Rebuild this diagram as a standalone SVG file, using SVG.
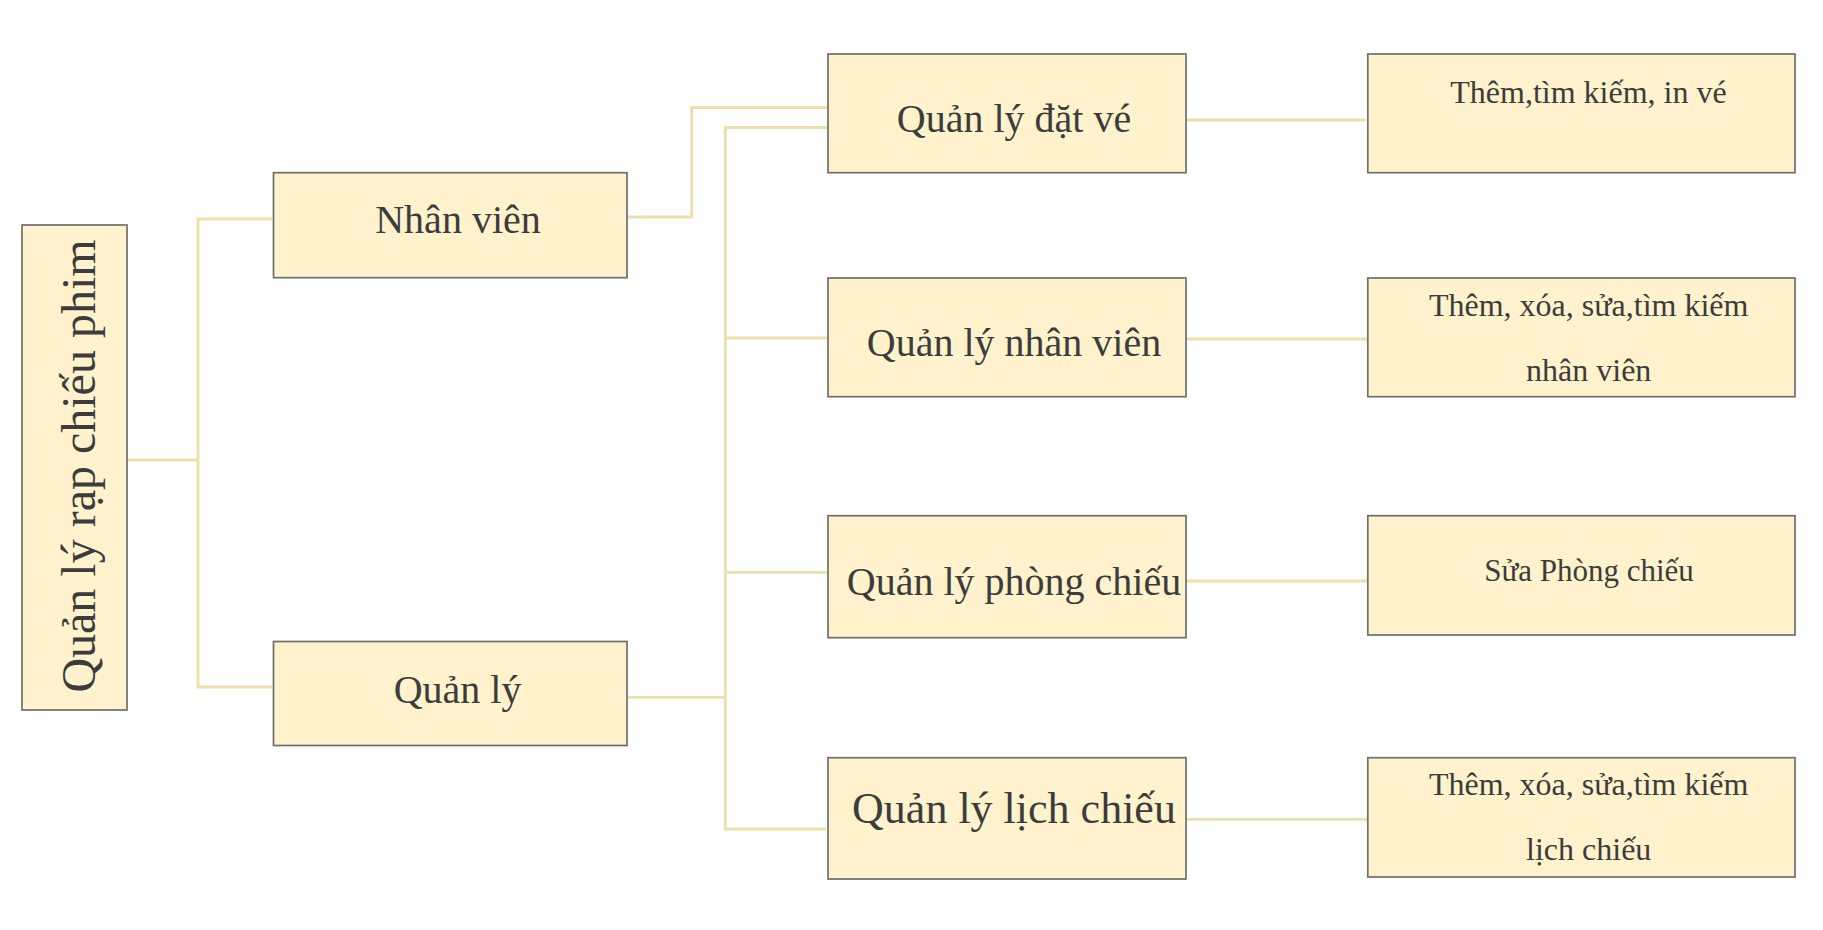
<svg xmlns="http://www.w3.org/2000/svg" width="1823" height="930" viewBox="0 0 1823 930">
<style>
.box{fill:#FFF2CC;stroke:#716D6D;stroke-width:1.7}
.lbl{font-family:"Liberation Serif","Times New Roman",serif;fill:#3C3C3C;text-anchor:middle}
.l40{font-size:40px}
.l32{font-size:32px}
.conn{fill:none;stroke:#EBDFAA;stroke-width:2.8}
</style>
<rect width="1823" height="930" fill="#FFFFFF"/>
<g id="connectors">
<polyline class="conn" points="127,460 198,460"/>
<polyline class="conn" points="272,219 198,219 198,687 272,687"/>
<polyline class="conn" points="627,217 691.7,217 691.7,107.5 828,107.5"/>
<polyline class="conn" points="627,697.3 725.3,697.3"/>
<polyline class="conn" points="828,127.5 725.3,127.5 725.3,829 826,829"/>
<polyline class="conn" points="725.3,338 828,338"/>
<polyline class="conn" points="725.3,572.3 828,572.3"/>
<polyline class="conn" points="1186,120 1366,120"/>
<polyline class="conn" points="1186,339 1367,339"/>
<polyline class="conn" points="1186,581 1367,581"/>
<polyline class="conn" points="1186,819.3 1367,819.3"/>
</g>
<g id="root">
<rect class="box" x="22" y="225" width="105" height="485"/>
<text class="lbl" font-size="48" transform="translate(94.5,466) rotate(-90)" x="0" y="0">Quản lý rạp chiếu phim</text>
</g>
<g id="nhanvien">
<rect class="box" x="273.5" y="172.7" width="353.5" height="105"/>
<text class="lbl l40" x="458" y="232.7">Nhân viên</text>
</g>
<g id="quanly">
<rect class="box" x="273.5" y="641.5" width="353.5" height="104"/>
<text class="lbl l40" x="457.6" y="702.7">Quản lý</text>
</g>
<g id="qldatve">
<rect class="box" x="828" y="54" width="358" height="118.7"/>
<text class="lbl l40" x="1014" y="131.7">Quản lý đặt vé</text>
</g>
<g id="qlnhanvien">
<rect class="box" x="828" y="278" width="358" height="118.7"/>
<text class="lbl l40" x="1014" y="356">Quản lý nhân viên</text>
</g>
<g id="qlphongchieu">
<rect class="box" x="828" y="515.7" width="358" height="122"/>
<text class="lbl l40" x="1014" y="595">Quản lý phòng chiếu</text>
</g>
<g id="qllichchieu">
<rect class="box" x="828" y="757.7" width="358" height="121.3"/>
<text class="lbl" font-size="44" x="1014" y="822.7">Quản lý lịch chiếu</text>
</g>
<g id="datve-func">
<rect class="box" x="1367.8" y="54" width="427.2" height="118.7"/>
<text class="lbl l32" x="1588.5" y="103.3">Thêm,tìm kiếm, in vé</text>
</g>
<g id="nhanvien-func">
<rect class="box" x="1367.8" y="278" width="427.2" height="118.7"/>
<text class="lbl l32" x="1588.7" y="316">Thêm, xóa, sửa,tìm kiếm</text>
<text class="lbl l32" x="1588.7" y="380.7">nhân viên</text>
</g>
<g id="phongchieu-func">
<rect class="box" x="1367.8" y="515.7" width="427.2" height="119.3"/>
<text class="lbl" font-size="31" x="1589" y="580.7">Sửa Phòng chiếu</text>
</g>
<g id="lichchieu-func">
<rect class="box" x="1367.8" y="757.7" width="427.2" height="119.3"/>
<text class="lbl l32" x="1588.7" y="795">Thêm, xóa, sửa,tìm kiếm</text>
<text class="lbl l32" x="1588.7" y="860">lịch chiếu</text>
</g>
</svg>
